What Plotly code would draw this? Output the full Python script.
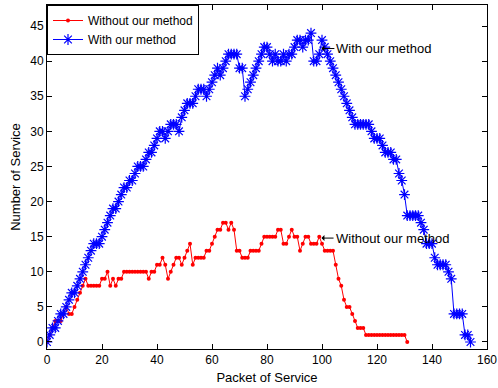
import plotly.graph_objects as go

# Red series: "Without our method" (packet index 0..131)
without_vals = [0, 1, 2, 3, 3, 3, 4, 5, 4, 4, 5, 6, 7, 8, 9, 8, 8, 8, 8, 8,
                9, 9, 10, 8, 9, 8, 9, 9, 10, 10, 10, 10, 10, 10, 10, 10, 10, 9, 10, 10,
                11, 11, 12, 11, 9, 10, 11, 12, 12, 11, 12, 13, 14, 11, 12, 12, 12, 12, 13, 13,
                14, 15, 16, 16, 17, 17, 16, 17, 16, 13, 13, 12, 12, 12, 13, 13, 13, 13, 14, 15,
                15, 15, 15, 15, 16, 16, 14, 14, 15, 16, 15, 15, 13, 14, 15, 15, 14, 14, 14, 15,
                14, 13, 13, 13, 13, 11, 9, 8, 6, 5, 5, 4, 3, 2, 2, 2, 1, 1, 1, 1,
                1, 1, 1, 1, 1, 1, 1, 1, 1, 1, 1, 0]
without_x = list(range(len(without_vals)))

# Blue series: "With our method" (packet index 0..154)
with_vals = [0, 1, 2, 2, 3, 4, 4, 5, 6, 7, 7, 8, 9, 10, 11, 12, 13, 14, 14, 14,
             15, 16, 17, 18, 19, 19, 20, 21, 22, 22, 23, 23, 24, 25, 25, 25, 26, 27, 27, 28,
             29, 30, 30, 29, 30, 31, 31, 31, 30, 32, 33, 34, 34, 34, 35, 36, 36, 36, 35, 36,
             37, 38, 39, 38, 39, 40, 41, 41, 41, 41, 39, 39, 35, 36, 37, 38, 39, 40, 41, 42,
             42, 41, 40, 41, 40, 40, 41, 40, 41, 41, 42, 43, 43, 42, 43, 43, 44, 40, 40, 41,
             43, 42, 41, 40, 39, 38, 37, 36, 35, 34, 33, 32, 31, 31, 31, 31, 31, 31, 30, 29,
             29, 29, 28, 27, 27, 27, 26, 26, 24, 23, 21, 18, 18, 18, 18, 18, 17, 16, 14, 14,
             14, 12, 11, 11, 11, 11, 10, 9, 4, 4, 4, 4, 1, 1, 0]
with_x = list(range(len(with_vals)))

x_ticks = [0, 20, 40, 60, 80, 100, 120, 140, 160]
y_ticks = [0, 5, 10, 15, 20, 25, 30, 35, 40, 45]

FONT = "Liberation Sans, Arial, sans-serif"

fig = go.Figure()
fig.add_trace(go.Scatter(
    x=without_x, y=without_vals, mode="lines+markers", name="Without our method",
    line=dict(color="#ff0000", width=1),
    marker=dict(color="#ff0000", size=4, symbol="circle"),
))
fig.add_trace(go.Scatter(
    x=with_x, y=with_vals, mode="lines+markers", name="With our method",
    line=dict(color="#0000ff", width=1),
    marker=dict(color="#0000ff", size=9, symbol="asterisk-open",
                line=dict(color="#0000ff", width=1.2)),
))

fig.add_annotation(x=99.8, y=41.8, ax=104.5, ay=41.8, axref="x", ayref="y",
                   text="With our method", showarrow=True, arrowhead=1,
                   arrowsize=1, arrowwidth=1, arrowcolor="black",
                   xanchor="left", font=dict(family=FONT, size=13, color="black"))
fig.add_annotation(x=99.8, y=14.8, ax=104.2, ay=14.8, axref="x", ayref="y",
                   text="Without our method", showarrow=True, arrowhead=1,
                   arrowsize=1, arrowwidth=1, arrowcolor="black",
                   xanchor="left", font=dict(family=FONT, size=13, color="black"))

axis_common = dict(showline=True, linecolor="black", linewidth=1, mirror="ticks",
                   ticks="inside", ticklen=5, tickcolor="black", showgrid=False,
                   zeroline=False, automargin=False,
                   tickfont=dict(family=FONT, size=12, color="black"))

fig.update_xaxes(range=[0, 160], tickvals=x_ticks,
                 title=dict(text="Packet of Service", font=dict(family=FONT, size=13, color="black"), standoff=6),
                 **axis_common)
fig.update_yaxes(range=[-1, 48], tickvals=y_ticks,
                 title=dict(text="Number of Service", font=dict(family=FONT, size=13, color="black"), standoff=6),
                 **axis_common)

fig.update_layout(
    width=498, height=388,
    margin=dict(l=47, r=11, t=5, b=39, autoexpand=False),
    paper_bgcolor="white", plot_bgcolor="white",
    showlegend=True,
    legend=dict(x=0.0, y=1.0, xanchor="left", yanchor="top",
                bgcolor="white", bordercolor="black", borderwidth=1,
                font=dict(family=FONT, size=12, color="black"),
                tracegroupgap=0, itemwidth=30),
    font=dict(family=FONT),
)

fig.write_html("out.html", config={"displayModeBar": False},
               post_script="document.body.style.margin='0px';")
